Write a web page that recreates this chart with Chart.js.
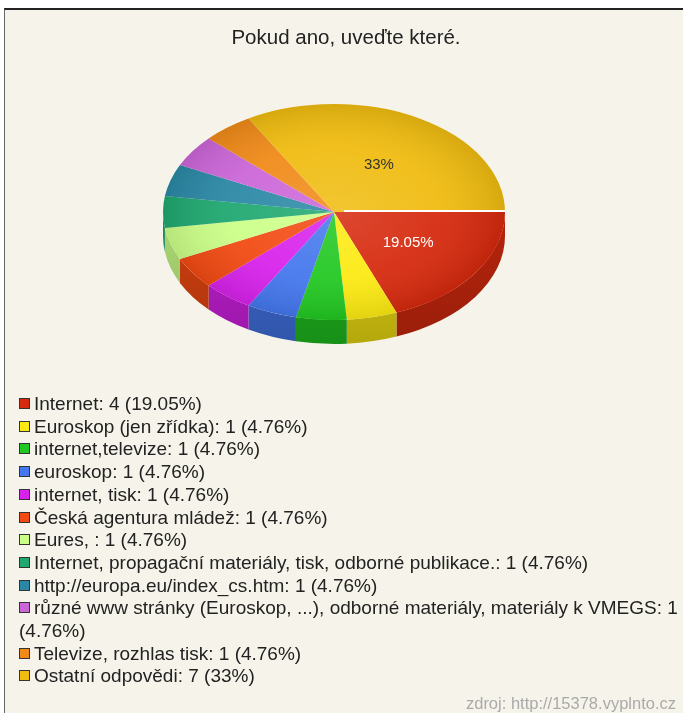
<!DOCTYPE html>
<html>
<head>
<meta charset="utf-8">
<script src="https://cdn.jsdelivr.net/npm/chart.js@4"></script>
<style>
  html, body { margin: 0; padding: 0; background: #fff; }
  body { width: 683px; height: 713px; overflow: hidden; position: relative; font-family: "Liberation Sans", Arial, sans-serif; }
  #frame { position: absolute; left: 4px; top: 8px; width: 700px; height: 720px; background: #f6f4ea; border-top: 2px solid #222; border-left: 1px solid #666; }
  #chart { position: absolute; left: 0; top: 0; }
  #legend { position: absolute; left: 19px; top: 393px; width: 664px; font-size: 19px; line-height: 22.7px; color: #222; }
  #legend .box { display: inline-block; width: 9px; height: 9px; border: 1px solid #333; margin-right: 4px; vertical-align: 1px; }
  #source { position: absolute; right: 7px; top: 694px; font-size: 16.5px; color: #aaa; }
</style>
</head>
<body>
<div id="frame"></div>
<canvas id="chart" width="683" height="713"></canvas>
<div id="legend"></div>
<div id="source">zdroj: http://15378.vyplnto.cz</div>
<script>
const categories = [
  "Internet",
  "Euroskop (jen zřídka)",
  "internet,televize",
  "euroskop",
  "internet, tisk",
  "Česká agentura mládež",
  "Eures, ",
  "Internet, propagační materiály, tisk, odborné publikace.",
  "http://europa.eu/index_cs.htm",
  "různé www stránky (Euroskop, ...), odborné materiály, materiály k VMEGS",
  "Televize, rozhlas tisk",
  "Ostatní odpovědi",
];
const counts = [4, 1, 1, 1, 1, 1, 1, 1, 1, 1, 1, 7];
const percentText = ["19.05%", "4.76%", "4.76%", "4.76%", "4.76%", "4.76%", "4.76%", "4.76%", "4.76%", "4.76%", "4.76%", "33%"];
const sliceColors = [
  "#d62a0e", "#fcea12", "#22c822", "#4477ee", "#d822ec", "#f24a12",
  "#ccff88", "#1fa870", "#2a88a5", "#cc66d8", "#f08a18", "#f0bc10",
];

const PIE_X = 334;
const PIE_Y = 212;
const TILT = 0.632;
const DEPTH = 24;

function shade(hex, f) {
  const n = parseInt(hex.slice(1), 16);
  const r = Math.round(((n >> 16) & 255) * f);
  const g = Math.round(((n >> 8) & 255) * f);
  const b = Math.round((n & 255) * f);
  return "rgb(" + r + "," + g + "," + b + ")";
}

function isLight(hex) {
  const n = parseInt(hex.slice(1), 16);
  const lum = 0.299 * ((n >> 16) & 255) + 0.587 * ((n >> 8) & 255) + 0.114 * (n & 255);
  return lum > 150;
}

const pie3d = {
  id: "pie3d",
  beforeDatasetsDraw(chart) {
    const ctx = chart.ctx;
    const meta = chart.getDatasetMeta(0);
    const ox = meta.data[0].x;
    const oy = meta.data[0].y;
    const rx = meta.data[0].outerRadius;
    const ry = rx * TILT;

    // side walls of the front half
    meta.data.forEach((el, i) => {
      const s = Math.max(el.startAngle, 0);
      const e = Math.min(el.endAngle, Math.PI);
      if (e <= s) return;
      const grad = ctx.createLinearGradient(0, PIE_Y, 0, PIE_Y + ry + DEPTH);
      grad.addColorStop(0, shade(sliceColors[i], 0.85));
      grad.addColorStop(1, shade(sliceColors[i], 0.72));
      ctx.beginPath();
      ctx.ellipse(PIE_X, PIE_Y, rx, ry, 0, s, e);
      ctx.ellipse(PIE_X, PIE_Y + DEPTH, rx, ry, 0, e, s, true);
      ctx.closePath();
      ctx.fillStyle = grad;
      ctx.fill();
    });

    ctx.save();
    ctx.translate(PIE_X, PIE_Y);
    ctx.scale(1, TILT);
    ctx.translate(-ox, -oy);
  },
  afterDatasetsDraw(chart) {
    const ctx = chart.ctx;
    const meta = chart.getDatasetMeta(0);
    const ox = meta.data[0].x;
    const oy = meta.data[0].y;
    const r = meta.data[0].outerRadius;

    // soft shading on the top face
    const g = ctx.createRadialGradient(ox, oy, 0, ox, oy, r);
    g.addColorStop(0, "rgba(255,255,255,0.14)");
    g.addColorStop(0.6, "rgba(255,255,255,0.06)");
    g.addColorStop(1, "rgba(0,0,0,0.10)");
    ctx.beginPath();
    ctx.arc(ox, oy, r, 0, Math.PI * 2);
    ctx.fillStyle = g;
    ctx.fill();
    ctx.restore();

    // white seam at the start of the first slice
    ctx.save();
    ctx.strokeStyle = "#ffffff";
    ctx.lineWidth = 2;
    ctx.beginPath();
    ctx.moveTo(PIE_X + 10, PIE_Y - 1);
    ctx.lineTo(PIE_X + r, PIE_Y - 1);
    ctx.stroke();

    // percentage labels on the big slices
    const total = counts.reduce((a, b) => a + b, 0);
    ctx.font = "15px 'Liberation Sans', Arial, sans-serif";
    ctx.textAlign = "center";
    ctx.textBaseline = "middle";
    meta.data.forEach((el, i) => {
      if (counts[i] / total < 0.1) return;
      const p = el.tooltipPosition();
      const x = PIE_X + (p.x - ox) * 1.05;
      const y = PIE_Y + (p.y - oy) * TILT;
      ctx.fillStyle = isLight(sliceColors[i]) ? "#333" : "#fff";
      ctx.fillText(percentText[i], x, y);
    });
    ctx.restore();
  },
};

new Chart("chart", {
  type: "pie",
  data: {
    labels: categories,
    datasets: [
      {
        data: counts,
        backgroundColor: sliceColors,
        borderWidth: 0,
        clip: false,
      },
    ],
  },
  options: {
    responsive: false,
    animation: false,
    rotation: 90,
    radius: 171,
    layout: { padding: { left: 9 } },
    plugins: {
      legend: { display: false },
      tooltip: { enabled: false },
      title: {
        display: true,
        text: "Pokud ano, uveďte které.",
        color: "#222",
        font: { size: 20.5, family: "'Liberation Sans', Arial, sans-serif", weight: "normal" },
        padding: { top: 26, bottom: 10 },
      },
    },
  },
  plugins: [pie3d],
});

const legend = document.getElementById("legend");
categories.forEach((label, i) => {
  const item = document.createElement("div");
  const box = document.createElement("span");
  box.className = "box";
  box.style.background = sliceColors[i];
  item.appendChild(box);
  item.appendChild(document.createTextNode(label + ": " + counts[i] + " (" + percentText[i] + ")"));
  legend.appendChild(item);
});
</script>
</body>
</html>
